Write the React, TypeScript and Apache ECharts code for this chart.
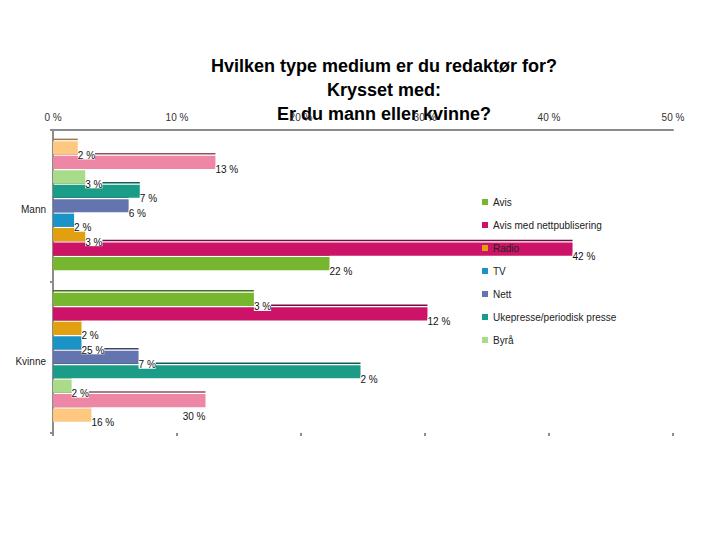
import React, { useEffect, useRef } from 'react';
import * as echarts from 'echarts';

const titleLines = ['Hvilken type medium er du redaktør for?', 'Krysset med:', 'Er du mann eller kvinne?'];
const categories = ['Mann', 'Kvinne'];
const axisMin = 0;
const axisMax = 50;
const axisStep = 10;

const legendNames = ['Avis', 'Avis med nettpublisering', 'Radio', 'TV', 'Nett', 'Ukepresse/periodisk presse', 'Byrå'];
const seriesNames = ['Avis', 'Avis med nettpublisering', 'Radio', 'TV', 'Nett', 'Ukepresse/periodisk presse', 'Byrå', 'Serie 8', 'Serie 9'];
const seriesColors = ['#76B72F', '#CC1367', '#E0A00F', '#1A94C6', '#6474AE', '#1A9C87', '#A9DB8A', '#EE86A6', '#FFC880'];

const mannValues = [22.3, 41.9, 2.6, 1.7, 6.1, 7.0, 2.6, 13.1, 2.0];
const kvinneValues = [16.2, 30.2, 2.3, 2.3, 6.9, 24.8, 1.5, 12.3, 3.1];
const mannLabels = ['22 %', '42 %', '3 %', '2 %', '6 %', '7 %', '3 %', '13 %', '2 %'];
const kvinneLabels = ['3 %', '12 %', '2 %', '25 %', '7 %', '2 %', '2 %', '30 %', '16 %'];

const FONT = '"Liberation Sans", Arial, sans-serif';
const CAT_GAP = 0.15;
const BAR_GAP = 0.1;

function darken(hex: string, k: number) {
  const h = hex.replace('#', '');
  const r = Math.round(parseInt(h.slice(0, 2), 16) * k);
  const g = Math.round(parseInt(h.slice(2, 4), 16) * k);
  const b = Math.round(parseInt(h.slice(4, 6), 16) * k);
  return `rgb(${r},${g},${b})`;
}

export default function App() {
  const ref = useRef<HTMLDivElement>(null);

  useEffect(() => {
    const chart = echarts.init(ref.current!, null, { renderer: 'svg' });
    const n = seriesNames.length;
    const series: any[] = [];
    const lineData: any[] = [];

    const makeBar = (i: number, catIdx: number, value: number, text: string, slot: number) => {
      const below = catIdx === 1 && seriesNames[i] === 'Serie 8';
      const data = categories.map((_, c) =>
        c === catIdx
          ? {
              value,
              label: below
                ? { position: 'insideRight', distance: 0, offset: [0, 16] }
                : undefined,
            }
          : '-'
      );
      lineData.push([value, catIdx, slot, i]);
      return {
        type: 'bar',
        name: seriesNames[i],
        stack: 'slot' + slot,
        data,
        z: 2,
        barCategoryGap: CAT_GAP * 100 + '%',
        barGap: BAR_GAP * 100 + '%',
        itemStyle: { color: seriesColors[i] },
        label: {
          show: true,
          position: 'right',
          distance: 0,
          offset: [0, 7.5],
          formatter: () => text,
          fontSize: 10,
          fontFamily: FONT,
          color: '#111',
          backgroundColor: '#fff',
          lineHeight: 8,
          padding: 0,
        },
      };
    };

    for (let slot = 0; slot < n; slot++) {
      const i = n - 1 - slot;
      series.push(makeBar(i, 0, mannValues[i], mannLabels[i], slot));
    }
    for (let slot = 0; slot < n; slot++) {
      const i = slot;
      series.push(makeBar(i, 1, kvinneValues[i], kvinneLabels[i], slot));
    }

    series.push({
      type: 'custom',
      name: 'edges',
      z: 1,
      silent: true,
      clip: false,
      encode: { x: 0, y: 1 },
      data: lineData,
      renderItem: (params: any, api: any) => {
        const v = api.value(0);
        const cat = api.value(1);
        const slot = api.value(2);
        const idx = api.value(3);
        const p0 = api.coord([0, cat]);
        const p1 = api.coord([v, cat]);
        const band = api.size([0, 1])[1];
        const w = (band * (1 - CAT_GAP)) / (n + (n - 1) * BAR_GAP);
        const total = n * w + (n - 1) * w * BAR_GAP;
        const top = p0[1] - total / 2 + slot * w * (1 + BAR_GAP);
        const y = top - 2;
        return {
          type: 'line',
          shape: { x1: p0[0], y1: y, x2: p1[0], y2: y },
          style: { stroke: darken(seriesColors[idx], 0.6), lineWidth: 1.5 },
        };
      },
    });

    chart.setOption({
      animation: false,
      backgroundColor: '#fff',
      textStyle: { fontFamily: FONT },
      graphic: [
        {
          type: 'text',
          x: 384,
          y: 54,
          style: {
            text: titleLines.join('\n'),
            fontSize: 18,
            fontWeight: 'bold',
            fontFamily: FONT,
            fill: '#000',
            align: 'center',
            textAlign: 'center',
            verticalAlign: 'top',
            lineHeight: 24,
          },
        },
      ],
      legend: {
        data: legendNames,
        orient: 'vertical',
        left: 477,
        top: 192,
        itemWidth: 6,
        itemHeight: 6,
        icon: 'rect',
        itemGap: 13,
        textStyle: { fontSize: 10, color: '#222', fontFamily: FONT },
        z: 5,
      },
      grid: { left: 53, right: 47, top: 130, bottom: 107, containLabel: false },
      xAxis: [
        {
          type: 'value',
          position: 'top',
          min: axisMin,
          max: axisMax,
          interval: axisStep,
          axisLine: { show: true, lineStyle: { color: '#8c8c8c', width: 2 } },
          axisTick: { show: false },
          splitLine: { show: false },
          axisLabel: { formatter: '{value} %', fontSize: 10, color: '#333', margin: 8, fontFamily: FONT },
        },
        {
          type: 'value',
          position: 'bottom',
          min: axisMin,
          max: axisMax,
          interval: axisStep,
          axisLine: { show: false },
          axisTick: { show: true, length: 3, lineStyle: { color: '#8c8c8c', width: 2 } },
          splitLine: { show: false },
          axisLabel: { show: false },
        },
      ],
      yAxis: {
        type: 'category',
        data: categories,
        inverse: true,
        axisLine: { show: true, lineStyle: { color: '#8c8c8c', width: 2 } },
        axisTick: { show: true, length: 3, lineStyle: { color: '#8c8c8c', width: 2 } },
        axisLabel: {
          fontSize: 10,
          color: '#222',
          margin: 7,
          fontFamily: FONT,
          verticalAlign: 'top',
          lineHeight: 8,
        },
      },
      series,
    });

    return () => chart.dispose();
  }, []);

  return (
    <div
      ref={ref}
      style={{ position: 'fixed', left: 0, top: 0, width: 720, height: 540, background: '#fff' }}
    />
  );
}
